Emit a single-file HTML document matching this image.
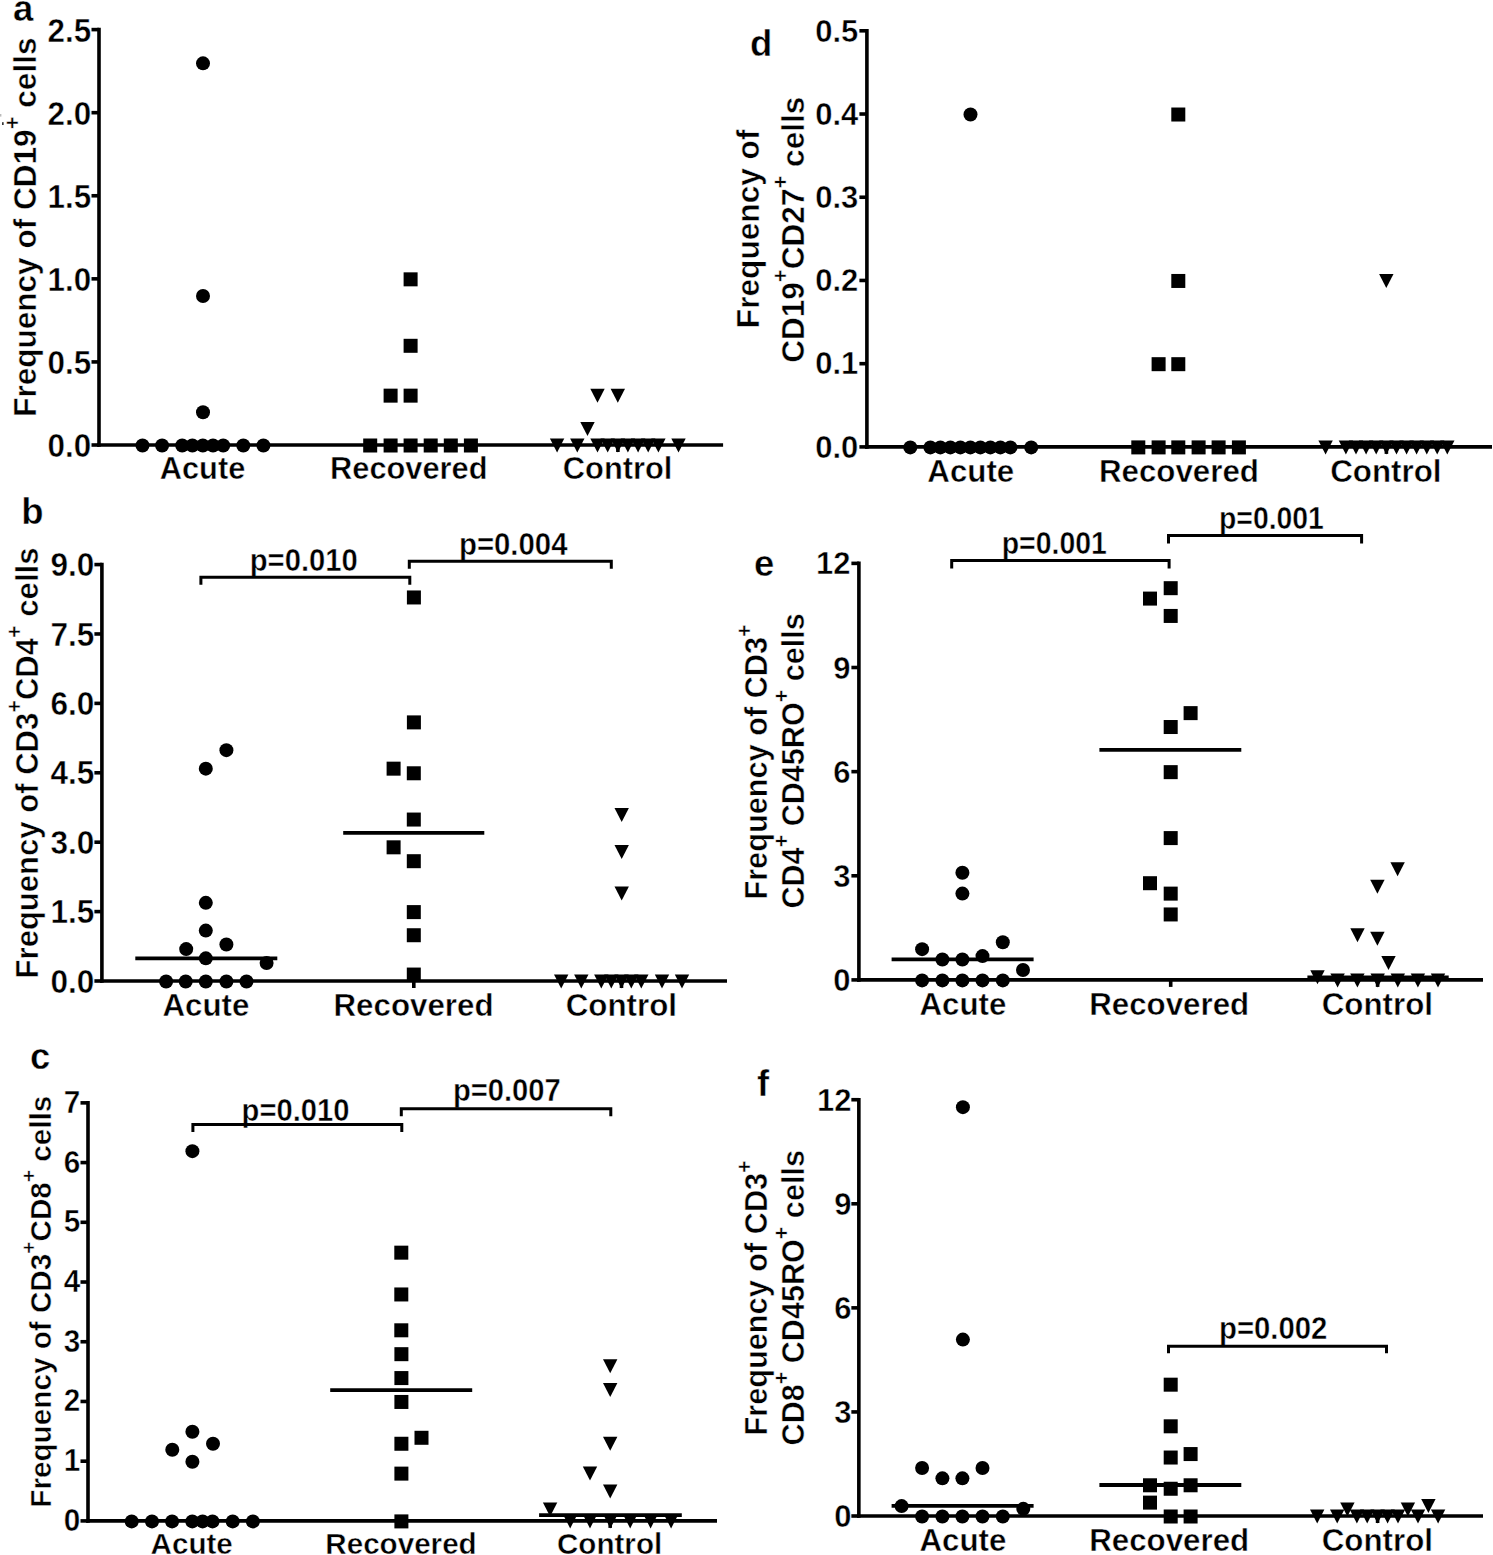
<!DOCTYPE html>
<html><head><meta charset="utf-8"><style>
html,body{margin:0;padding:0;background:#fff;}
svg{display:block;}
text{font-family:'Liberation Sans', sans-serif;font-weight:bold;fill:#000;stroke:#fff;stroke-width:0.45px;}
</style></head><body>
<svg width="1493" height="1555" viewBox="0 0 1493 1555">
<g>
<text x="91.2" y="457" font-size="33" text-anchor="end" textLength="43.62" lengthAdjust="spacingAndGlyphs">0.0</text>
<text x="91.2" y="373.92" font-size="33" text-anchor="end" textLength="43.62" lengthAdjust="spacingAndGlyphs">0.5</text>
<text x="91.2" y="290.84" font-size="33" text-anchor="end" textLength="43.62" lengthAdjust="spacingAndGlyphs">1.0</text>
<text x="91.2" y="207.76" font-size="33" text-anchor="end" textLength="43.62" lengthAdjust="spacingAndGlyphs">1.5</text>
<text x="91.2" y="124.68" font-size="33" text-anchor="end" textLength="43.62" lengthAdjust="spacingAndGlyphs">2.0</text>
<text x="91.2" y="41.6" font-size="33" text-anchor="end" textLength="43.62" lengthAdjust="spacingAndGlyphs">2.5</text>
<text x="202.5" y="479.4" font-size="30.8" text-anchor="middle">Acute</text>
<text x="408.8" y="479.4" font-size="30.8" text-anchor="middle">Recovered</text>
<text x="617.6" y="479.4" font-size="30.8" text-anchor="middle">Control</text>
<text transform="translate(35.6,227.2) rotate(-90)" font-size="31.55" text-anchor="middle">Frequency of CD19<tspan font-size="22.1" dy="-15.5">+</tspan><tspan dy="15.5">&#8203;</tspan> cells</text>
<text x="13.1" y="20.9" font-size="36.5">a</text>
<text x="94.3" y="992.6" font-size="33" text-anchor="end" textLength="43.85" lengthAdjust="spacingAndGlyphs">0.0</text>
<text x="94.3" y="923.2" font-size="33" text-anchor="end" textLength="43.85" lengthAdjust="spacingAndGlyphs">1.5</text>
<text x="94.3" y="853.79" font-size="33" text-anchor="end" textLength="43.85" lengthAdjust="spacingAndGlyphs">3.0</text>
<text x="94.3" y="784.38" font-size="33" text-anchor="end" textLength="43.85" lengthAdjust="spacingAndGlyphs">4.5</text>
<text x="94.3" y="714.98" font-size="33" text-anchor="end" textLength="43.85" lengthAdjust="spacingAndGlyphs">6.0</text>
<text x="94.3" y="645.57" font-size="33" text-anchor="end" textLength="43.85" lengthAdjust="spacingAndGlyphs">7.5</text>
<text x="94.3" y="576.17" font-size="33" text-anchor="end" textLength="43.85" lengthAdjust="spacingAndGlyphs">9.0</text>
<text x="205.9" y="1015.5" font-size="31.3" text-anchor="middle">Acute</text>
<text x="413.5" y="1015.5" font-size="31.3" text-anchor="middle">Recovered</text>
<text x="621.4" y="1015.5" font-size="31.3" text-anchor="middle">Control</text>
<text transform="translate(37.6,763) rotate(-90)" font-size="31.05" text-anchor="middle">Frequency of CD3<tspan font-size="21.7" dy="-15.2">+</tspan><tspan dy="15.2">&#8203;</tspan>CD4<tspan font-size="21.7" dy="-15.2">+</tspan><tspan dy="15.2">&#8203;</tspan> cells</text>
<text x="21.25" y="523.75" font-size="36.5">b</text>
<text x="303.8" y="570.5" font-size="31.4" text-anchor="middle" textLength="108.05" lengthAdjust="spacingAndGlyphs">p=0.010</text>
<text x="513.25" y="554.7" font-size="31.4" text-anchor="middle" textLength="108.57" lengthAdjust="spacingAndGlyphs">p=0.004</text>
<text x="80.2" y="1530.9" font-size="30.5" text-anchor="end" textLength="16.53" lengthAdjust="spacingAndGlyphs">0</text>
<text x="80.2" y="1471.18" font-size="30.5" text-anchor="end" textLength="16.53" lengthAdjust="spacingAndGlyphs">1</text>
<text x="80.2" y="1411.46" font-size="30.5" text-anchor="end" textLength="16.53" lengthAdjust="spacingAndGlyphs">2</text>
<text x="80.2" y="1351.74" font-size="30.5" text-anchor="end" textLength="16.53" lengthAdjust="spacingAndGlyphs">3</text>
<text x="80.2" y="1292.02" font-size="30.5" text-anchor="end" textLength="16.53" lengthAdjust="spacingAndGlyphs">4</text>
<text x="80.2" y="1232.3" font-size="30.5" text-anchor="end" textLength="16.53" lengthAdjust="spacingAndGlyphs">5</text>
<text x="80.2" y="1172.58" font-size="30.5" text-anchor="end" textLength="16.53" lengthAdjust="spacingAndGlyphs">6</text>
<text x="80.2" y="1112.86" font-size="30.5" text-anchor="end" textLength="16.53" lengthAdjust="spacingAndGlyphs">7</text>
<text x="191.7" y="1553.8" font-size="29.6" text-anchor="middle">Acute</text>
<text x="401" y="1553.8" font-size="29.6" text-anchor="middle">Recovered</text>
<text x="609.6" y="1553.8" font-size="29.6" text-anchor="middle">Control</text>
<text transform="translate(50.6,1301.7) rotate(-90)" font-size="29.7" text-anchor="middle">Frequency of CD3<tspan font-size="20.8" dy="-14.6">+</tspan><tspan dy="14.6">&#8203;</tspan>CD8<tspan font-size="20.8" dy="-14.6">+</tspan><tspan dy="14.6">&#8203;</tspan> cells</text>
<text x="29.9" y="1068.5" font-size="36.5">c</text>
<text x="295.55" y="1120.7" font-size="31.4" text-anchor="middle" textLength="107.95" lengthAdjust="spacingAndGlyphs">p=0.010</text>
<text x="506.85" y="1100.7" font-size="31.4" text-anchor="middle" textLength="107.95" lengthAdjust="spacingAndGlyphs">p=0.007</text>
<text x="858.3" y="457.7" font-size="31" text-anchor="end">0.0</text>
<text x="858.3" y="374.48" font-size="31" text-anchor="end">0.1</text>
<text x="858.3" y="291.26" font-size="31" text-anchor="end">0.2</text>
<text x="858.3" y="208.04" font-size="31" text-anchor="end">0.3</text>
<text x="858.3" y="124.82" font-size="31" text-anchor="end">0.4</text>
<text x="858.3" y="41.6" font-size="31" text-anchor="end">0.5</text>
<text x="970.8" y="481.9" font-size="31.3" text-anchor="middle">Acute</text>
<text x="1178.9" y="481.9" font-size="31.3" text-anchor="middle">Recovered</text>
<text x="1385.9" y="481.9" font-size="31.3" text-anchor="middle">Control</text>
<text transform="translate(759.3,228.85) rotate(-90)" font-size="31.65" text-anchor="middle">Frequency of</text>
<text transform="translate(803.8,229.75) rotate(-90)" font-size="31.55" text-anchor="middle">CD19<tspan font-size="22.1" dy="-15.5">+</tspan><tspan dy="15.5">&#8203;</tspan>CD27<tspan font-size="22.1" dy="-15.5">+</tspan><tspan dy="15.5">&#8203;</tspan> cells</text>
<text x="749.95" y="55.8" font-size="36.5">d</text>
<text x="850.6" y="990.9" font-size="31" text-anchor="end">0</text>
<text x="850.6" y="886.77" font-size="31" text-anchor="end">3</text>
<text x="850.6" y="782.64" font-size="31" text-anchor="end">6</text>
<text x="850.6" y="678.51" font-size="31" text-anchor="end">9</text>
<text x="850.6" y="574.38" font-size="31" text-anchor="end">12</text>
<text x="962.9" y="1015.2" font-size="31.3" text-anchor="middle">Acute</text>
<text x="1169.2" y="1015.2" font-size="31.3" text-anchor="middle">Recovered</text>
<text x="1377.4" y="1015.2" font-size="31.3" text-anchor="middle">Control</text>
<text transform="translate(767,762) rotate(-90)" font-size="30.7" text-anchor="middle">Frequency of CD3<tspan font-size="21.5" dy="-15.0">+</tspan><tspan dy="15.0">&#8203;</tspan></text>
<text transform="translate(804,760.9) rotate(-90)" font-size="30.6" text-anchor="middle">CD4<tspan font-size="21.4" dy="-15.0">+</tspan><tspan dy="15.0">&#8203;</tspan> CD45RO<tspan font-size="21.4" dy="-15.0">+</tspan><tspan dy="15.0">&#8203;</tspan> cells</text>
<text x="754" y="575.6" font-size="36.5">e</text>
<text x="1054.3" y="553.9" font-size="31.4" text-anchor="middle" textLength="105.17" lengthAdjust="spacingAndGlyphs">p=0.001</text>
<text x="1271.45" y="529.4" font-size="31.4" text-anchor="middle" textLength="104.86" lengthAdjust="spacingAndGlyphs">p=0.001</text>
<text x="851.5" y="1527" font-size="31" text-anchor="end">0</text>
<text x="851.5" y="1422.93" font-size="31" text-anchor="end">3</text>
<text x="851.5" y="1318.86" font-size="31" text-anchor="end">6</text>
<text x="851.5" y="1214.79" font-size="31" text-anchor="end">9</text>
<text x="851.5" y="1110.72" font-size="31" text-anchor="end">12</text>
<text x="962.9" y="1550.9" font-size="31.3" text-anchor="middle">Acute</text>
<text x="1169.2" y="1550.9" font-size="31.3" text-anchor="middle">Recovered</text>
<text x="1377.4" y="1550.9" font-size="31.3" text-anchor="middle">Control</text>
<text transform="translate(767,1297.9) rotate(-90)" font-size="30.7" text-anchor="middle">Frequency of CD3<tspan font-size="21.5" dy="-15.0">+</tspan><tspan dy="15.0">&#8203;</tspan></text>
<text transform="translate(804,1297.75) rotate(-90)" font-size="30.6" text-anchor="middle">CD8<tspan font-size="21.4" dy="-15.0">+</tspan><tspan dy="15.0">&#8203;</tspan> CD45RO<tspan font-size="21.4" dy="-15.0">+</tspan><tspan dy="15.0">&#8203;</tspan> cells</text>
<text x="757" y="1095.8" font-size="36.5">f</text>
<text x="1273.2" y="1338.9" font-size="31.4" text-anchor="middle" textLength="108.46" lengthAdjust="spacingAndGlyphs">p=0.002</text>
</g>
<line x1="99" y1="27.8" x2="99" y2="446.8" stroke="#000" stroke-width="3.6"/>
<line x1="97.2" y1="445" x2="723.1" y2="445" stroke="#000" stroke-width="3.6"/>
<line x1="91.5" y1="445" x2="99" y2="445" stroke="#000" stroke-width="3.6"/>
<line x1="91.5" y1="361.92" x2="99" y2="361.92" stroke="#000" stroke-width="3.6"/>
<line x1="91.5" y1="278.84" x2="99" y2="278.84" stroke="#000" stroke-width="3.6"/>
<line x1="91.5" y1="195.76" x2="99" y2="195.76" stroke="#000" stroke-width="3.6"/>
<line x1="91.5" y1="112.68" x2="99" y2="112.68" stroke="#000" stroke-width="3.6"/>
<line x1="91.5" y1="29.6" x2="99" y2="29.6" stroke="#000" stroke-width="3.6"/>
<line x1="202.8" y1="445" x2="202.8" y2="452" stroke="#000" stroke-width="3.6"/>
<line x1="410.6" y1="445" x2="410.6" y2="452" stroke="#000" stroke-width="3.6"/>
<line x1="617.9" y1="445" x2="617.9" y2="452" stroke="#000" stroke-width="3.6"/>
<circle cx="203" cy="63.33" r="7.0"/>
<circle cx="203" cy="295.96" r="7.0"/>
<circle cx="203" cy="412.27" r="7.0"/>
<circle cx="142.5" cy="445.5" r="7.0"/>
<circle cx="162.1" cy="445.5" r="7.0"/>
<circle cx="182.2" cy="445.5" r="7.0"/>
<circle cx="192.4" cy="445.5" r="7.0"/>
<circle cx="202.8" cy="445.5" r="7.0"/>
<circle cx="213" cy="445.5" r="7.0"/>
<circle cx="223.2" cy="445.5" r="7.0"/>
<circle cx="243.3" cy="445.5" r="7.0"/>
<circle cx="263.4" cy="445.5" r="7.0"/>
<rect x="403.6" y="272.34" width="14.0" height="14.0"/>
<rect x="403.6" y="338.8" width="14.0" height="14.0"/>
<rect x="383.6" y="388.65" width="14.0" height="14.0"/>
<rect x="403.6" y="388.65" width="14.0" height="14.0"/>
<rect x="363.2" y="438.5" width="14.0" height="14.0"/>
<rect x="383.6" y="438.5" width="14.0" height="14.0"/>
<rect x="403.6" y="438.5" width="14.0" height="14.0"/>
<rect x="423.7" y="438.5" width="14.0" height="14.0"/>
<rect x="443.8" y="438.5" width="14.0" height="14.0"/>
<rect x="463.9" y="438.5" width="14.0" height="14.0"/>
<path d="M590.3,388.65H604.7L597.5,402.65Z"/>
<path d="M610.6,388.65H625L617.8,402.65Z"/>
<path d="M580.3,421.88H594.7L587.5,435.88Z"/>
<path d="M549.9,438.5H564.3L557.1,452.5Z"/>
<path d="M570.1,438.5H584.5L577.3,452.5Z"/>
<path d="M590.3,438.5H604.7L597.5,452.5Z"/>
<path d="M600.5,438.5H614.9L607.7,452.5Z"/>
<path d="M610.7,438.5H625.1L617.9,452.5Z"/>
<path d="M620.7,438.5H635.1L627.9,452.5Z"/>
<path d="M630.9,438.5H645.3L638.1,452.5Z"/>
<path d="M641,438.5H655.4L648.2,452.5Z"/>
<path d="M651.2,438.5H665.6L658.4,452.5Z"/>
<path d="M671.3,438.5H685.7L678.5,452.5Z"/>
<line x1="101.9" y1="562.77" x2="101.9" y2="982.8" stroke="#000" stroke-width="3.6"/>
<line x1="100.1" y1="981" x2="727" y2="981" stroke="#000" stroke-width="3.6"/>
<line x1="94.4" y1="981" x2="101.9" y2="981" stroke="#000" stroke-width="3.6"/>
<line x1="94.4" y1="911.6" x2="101.9" y2="911.6" stroke="#000" stroke-width="3.6"/>
<line x1="94.4" y1="842.19" x2="101.9" y2="842.19" stroke="#000" stroke-width="3.6"/>
<line x1="94.4" y1="772.78" x2="101.9" y2="772.78" stroke="#000" stroke-width="3.6"/>
<line x1="94.4" y1="703.38" x2="101.9" y2="703.38" stroke="#000" stroke-width="3.6"/>
<line x1="94.4" y1="633.97" x2="101.9" y2="633.97" stroke="#000" stroke-width="3.6"/>
<line x1="94.4" y1="564.57" x2="101.9" y2="564.57" stroke="#000" stroke-width="3.6"/>
<line x1="205.8" y1="981" x2="205.8" y2="988" stroke="#000" stroke-width="3.6"/>
<line x1="413.8" y1="981" x2="413.8" y2="988" stroke="#000" stroke-width="3.6"/>
<line x1="621.5" y1="981" x2="621.5" y2="988" stroke="#000" stroke-width="3.6"/>
<line x1="135.3" y1="958.3" x2="277.3" y2="958.3" stroke="#000" stroke-width="3.8"/>
<line x1="343.2" y1="832.9" x2="484.3" y2="832.9" stroke="#000" stroke-width="3.8"/>
<path d="M200.9,584.7V577.2H409.8V584.7" fill="none" stroke="#000" stroke-width="3.0"/>
<path d="M409.3,568.8V561.3H611.3V568.8" fill="none" stroke="#000" stroke-width="3.0"/>
<circle cx="226.4" cy="750.15" r="7.0"/>
<circle cx="205.8" cy="768.66" r="7.0"/>
<circle cx="205.8" cy="902.84" r="7.0"/>
<circle cx="205.8" cy="930.6" r="7.0"/>
<circle cx="186.2" cy="949.11" r="7.0"/>
<circle cx="226.4" cy="944.48" r="7.0"/>
<circle cx="205.8" cy="958.37" r="7.0"/>
<circle cx="266.6" cy="962.99" r="7.0"/>
<circle cx="166.1" cy="981.5" r="7.0"/>
<circle cx="185.7" cy="981.5" r="7.0"/>
<circle cx="205.8" cy="981.5" r="7.0"/>
<circle cx="226.4" cy="981.5" r="7.0"/>
<circle cx="246.5" cy="981.5" r="7.0"/>
<rect x="406.9" y="590.46" width="14.0" height="14.0"/>
<rect x="406.9" y="715.39" width="14.0" height="14.0"/>
<rect x="386.6" y="761.66" width="14.0" height="14.0"/>
<rect x="406.8" y="766.28" width="14.0" height="14.0"/>
<rect x="406.8" y="812.55" width="14.0" height="14.0"/>
<rect x="386.6" y="840.32" width="14.0" height="14.0"/>
<rect x="406.8" y="854.2" width="14.0" height="14.0"/>
<rect x="406.8" y="905.1" width="14.0" height="14.0"/>
<rect x="406.8" y="928.23" width="14.0" height="14.0"/>
<rect x="406.8" y="967.56" width="14.0" height="14.0"/>
<path d="M614.5,807.93H628.9L621.7,821.93Z"/>
<path d="M614.5,844.94H628.9L621.7,858.94Z"/>
<path d="M614.5,886.59H628.9L621.7,900.59Z"/>
<path d="M554,974.5H568.4L561.2,988.5Z"/>
<path d="M574.1,974.5H588.5L581.3,988.5Z"/>
<path d="M594.1,974.5H608.5L601.3,988.5Z"/>
<path d="M604.1,974.5H618.5L611.3,988.5Z"/>
<path d="M614.3,974.5H628.7L621.5,988.5Z"/>
<path d="M624.1,974.5H638.5L631.3,988.5Z"/>
<path d="M634.1,974.5H648.5L641.3,988.5Z"/>
<path d="M654.8,974.5H669.2L662,988.5Z"/>
<path d="M674.8,974.5H689.2L682,988.5Z"/>
<line x1="88" y1="1101.06" x2="88" y2="1522.7" stroke="#000" stroke-width="3.6"/>
<line x1="86.2" y1="1520.9" x2="717" y2="1520.9" stroke="#000" stroke-width="3.6"/>
<line x1="80.5" y1="1520.9" x2="88" y2="1520.9" stroke="#000" stroke-width="3.6"/>
<line x1="80.5" y1="1461.18" x2="88" y2="1461.18" stroke="#000" stroke-width="3.6"/>
<line x1="80.5" y1="1401.46" x2="88" y2="1401.46" stroke="#000" stroke-width="3.6"/>
<line x1="80.5" y1="1341.74" x2="88" y2="1341.74" stroke="#000" stroke-width="3.6"/>
<line x1="80.5" y1="1282.02" x2="88" y2="1282.02" stroke="#000" stroke-width="3.6"/>
<line x1="80.5" y1="1222.3" x2="88" y2="1222.3" stroke="#000" stroke-width="3.6"/>
<line x1="80.5" y1="1162.58" x2="88" y2="1162.58" stroke="#000" stroke-width="3.6"/>
<line x1="80.5" y1="1102.86" x2="88" y2="1102.86" stroke="#000" stroke-width="3.6"/>
<line x1="192.4" y1="1520.9" x2="192.4" y2="1527.9" stroke="#000" stroke-width="3.6"/>
<line x1="401.4" y1="1520.9" x2="401.4" y2="1527.9" stroke="#000" stroke-width="3.6"/>
<line x1="610.2" y1="1520.9" x2="610.2" y2="1527.9" stroke="#000" stroke-width="3.6"/>
<line x1="330.2" y1="1390.1" x2="472.2" y2="1390.1" stroke="#000" stroke-width="3.8"/>
<line x1="539.1" y1="1515.1" x2="681.8" y2="1515.1" stroke="#000" stroke-width="3.8"/>
<path d="M192.9,1132.1V1124.6H401.8V1132.1" fill="none" stroke="#000" stroke-width="3.0"/>
<path d="M401.3,1116.3V1108.8H610.8V1116.3" fill="none" stroke="#000" stroke-width="3.0"/>
<circle cx="192.4" cy="1151.14" r="7.0"/>
<circle cx="192.4" cy="1431.82" r="7.0"/>
<circle cx="172.3" cy="1449.74" r="7.0"/>
<circle cx="213" cy="1443.76" r="7.0"/>
<circle cx="192.4" cy="1461.68" r="7.0"/>
<circle cx="131.7" cy="1521.4" r="7.0"/>
<circle cx="152" cy="1521.4" r="7.0"/>
<circle cx="172.1" cy="1521.4" r="7.0"/>
<circle cx="192.3" cy="1521.4" r="7.0"/>
<circle cx="202.6" cy="1521.4" r="7.0"/>
<circle cx="212.5" cy="1521.4" r="7.0"/>
<circle cx="232.7" cy="1521.4" r="7.0"/>
<circle cx="252.9" cy="1521.4" r="7.0"/>
<rect x="394.3" y="1245.66" width="14.0" height="14.0"/>
<rect x="394.3" y="1287.46" width="14.0" height="14.0"/>
<rect x="394.3" y="1323.3" width="14.0" height="14.0"/>
<rect x="394.4" y="1347.18" width="14.0" height="14.0"/>
<rect x="394.4" y="1371.07" width="14.0" height="14.0"/>
<rect x="394.4" y="1394.96" width="14.0" height="14.0"/>
<rect x="414.5" y="1430.79" width="14.0" height="14.0"/>
<rect x="394.4" y="1436.76" width="14.0" height="14.0"/>
<rect x="394.4" y="1466.62" width="14.0" height="14.0"/>
<rect x="394.4" y="1514.4" width="14.0" height="14.0"/>
<path d="M603,1359.13H617.4L610.2,1373.13Z"/>
<path d="M603,1383.02H617.4L610.2,1397.02Z"/>
<path d="M603,1436.76H617.4L610.2,1450.76Z"/>
<path d="M582.8,1466.62H597.2L590,1480.62Z"/>
<path d="M603,1484.54H617.4L610.2,1498.54Z"/>
<path d="M542.9,1502.46H557.3L550.1,1516.46Z"/>
<path d="M563,1514.4H577.4L570.2,1528.4Z"/>
<path d="M582.8,1514.4H597.2L590,1528.4Z"/>
<path d="M603.2,1514.4H617.6L610.4,1528.4Z"/>
<path d="M623,1514.4H637.4L630.2,1528.4Z"/>
<path d="M643.4,1514.4H657.8L650.6,1528.4Z"/>
<path d="M663.9,1514.4H678.3L671.1,1528.4Z"/>
<line x1="866.9" y1="29" x2="866.9" y2="448.7" stroke="#000" stroke-width="3.6"/>
<line x1="865.1" y1="446.9" x2="1492" y2="446.9" stroke="#000" stroke-width="3.6"/>
<line x1="859.4" y1="446.9" x2="866.9" y2="446.9" stroke="#000" stroke-width="3.6"/>
<line x1="859.4" y1="363.68" x2="866.9" y2="363.68" stroke="#000" stroke-width="3.6"/>
<line x1="859.4" y1="280.46" x2="866.9" y2="280.46" stroke="#000" stroke-width="3.6"/>
<line x1="859.4" y1="197.24" x2="866.9" y2="197.24" stroke="#000" stroke-width="3.6"/>
<line x1="859.4" y1="114.02" x2="866.9" y2="114.02" stroke="#000" stroke-width="3.6"/>
<line x1="859.4" y1="30.8" x2="866.9" y2="30.8" stroke="#000" stroke-width="3.6"/>
<line x1="970.5" y1="446.9" x2="970.5" y2="453.9" stroke="#000" stroke-width="3.6"/>
<line x1="1178.3" y1="446.9" x2="1178.3" y2="453.9" stroke="#000" stroke-width="3.6"/>
<line x1="1386.4" y1="446.9" x2="1386.4" y2="453.9" stroke="#000" stroke-width="3.6"/>
<circle cx="970.5" cy="114.52" r="7.0"/>
<circle cx="910.3" cy="447.4" r="7.0"/>
<circle cx="930.4" cy="447.4" r="7.0"/>
<circle cx="940.4" cy="447.4" r="7.0"/>
<circle cx="950.4" cy="447.4" r="7.0"/>
<circle cx="960.4" cy="447.4" r="7.0"/>
<circle cx="970.4" cy="447.4" r="7.0"/>
<circle cx="980.4" cy="447.4" r="7.0"/>
<circle cx="990.4" cy="447.4" r="7.0"/>
<circle cx="1000.4" cy="447.4" r="7.0"/>
<circle cx="1010.4" cy="447.4" r="7.0"/>
<circle cx="1031.2" cy="447.4" r="7.0"/>
<rect x="1171.3" y="107.52" width="14.0" height="14.0"/>
<rect x="1171.3" y="273.96" width="14.0" height="14.0"/>
<rect x="1151.6" y="357.18" width="14.0" height="14.0"/>
<rect x="1171.3" y="357.18" width="14.0" height="14.0"/>
<rect x="1131.3" y="440.4" width="14.0" height="14.0"/>
<rect x="1151.6" y="440.4" width="14.0" height="14.0"/>
<rect x="1171.3" y="440.4" width="14.0" height="14.0"/>
<rect x="1191.6" y="440.4" width="14.0" height="14.0"/>
<rect x="1211.6" y="440.4" width="14.0" height="14.0"/>
<rect x="1231.9" y="440.4" width="14.0" height="14.0"/>
<path d="M1379.1,273.96H1393.5L1386.3,287.96Z"/>
<path d="M1318.4,440.4H1332.8L1325.6,454.4Z"/>
<path d="M1338.7,440.4H1353.1L1345.9,454.4Z"/>
<path d="M1348.8,440.4H1363.2L1356,454.4Z"/>
<path d="M1358.9,440.4H1373.3L1366.1,454.4Z"/>
<path d="M1369,440.4H1383.4L1376.2,454.4Z"/>
<path d="M1379.2,440.4H1393.6L1386.4,454.4Z"/>
<path d="M1389.3,440.4H1403.7L1396.5,454.4Z"/>
<path d="M1399.4,440.4H1413.8L1406.6,454.4Z"/>
<path d="M1409.4,440.4H1423.8L1416.6,454.4Z"/>
<path d="M1419.6,440.4H1434L1426.8,454.4Z"/>
<path d="M1430,440.4H1444.4L1437.2,454.4Z"/>
<path d="M1440.1,440.4H1454.5L1447.3,454.4Z"/>
<line x1="858.9" y1="561.58" x2="858.9" y2="981.7" stroke="#000" stroke-width="3.6"/>
<line x1="857.1" y1="979.9" x2="1483" y2="979.9" stroke="#000" stroke-width="3.6"/>
<line x1="851.4" y1="979.9" x2="858.9" y2="979.9" stroke="#000" stroke-width="3.6"/>
<line x1="851.4" y1="875.77" x2="858.9" y2="875.77" stroke="#000" stroke-width="3.6"/>
<line x1="851.4" y1="771.64" x2="858.9" y2="771.64" stroke="#000" stroke-width="3.6"/>
<line x1="851.4" y1="667.51" x2="858.9" y2="667.51" stroke="#000" stroke-width="3.6"/>
<line x1="851.4" y1="563.38" x2="858.9" y2="563.38" stroke="#000" stroke-width="3.6"/>
<line x1="962.4" y1="979.9" x2="962.4" y2="986.9" stroke="#000" stroke-width="3.6"/>
<line x1="1170.7" y1="979.9" x2="1170.7" y2="986.9" stroke="#000" stroke-width="3.6"/>
<line x1="1377.6" y1="979.9" x2="1377.6" y2="986.9" stroke="#000" stroke-width="3.6"/>
<line x1="891.6" y1="959.4" x2="1033.6" y2="959.4" stroke="#000" stroke-width="3.8"/>
<line x1="1099.4" y1="749.8" x2="1241.3" y2="749.8" stroke="#000" stroke-width="3.8"/>
<line x1="1307.4" y1="977.3" x2="1448.7" y2="977.3" stroke="#000" stroke-width="3.8"/>
<path d="M951.7,568.4V560.6H1169.1V568.4" fill="none" stroke="#000" stroke-width="3.0"/>
<path d="M1168.5,543.4V535.4H1361.6V543.4" fill="none" stroke="#000" stroke-width="3.0"/>
<circle cx="962.4" cy="872.8" r="7.0"/>
<circle cx="962.4" cy="893.62" r="7.0"/>
<circle cx="922.1" cy="949.16" r="7.0"/>
<circle cx="942.4" cy="959.57" r="7.0"/>
<circle cx="962.4" cy="959.57" r="7.0"/>
<circle cx="982.5" cy="956.1" r="7.0"/>
<circle cx="1002.8" cy="942.22" r="7.0"/>
<circle cx="1023" cy="969.99" r="7.0"/>
<circle cx="922.1" cy="980.4" r="7.0"/>
<circle cx="942.4" cy="980.4" r="7.0"/>
<circle cx="962.4" cy="980.4" r="7.0"/>
<circle cx="982.5" cy="980.4" r="7.0"/>
<circle cx="1002.8" cy="980.4" r="7.0"/>
<rect x="1163.7" y="581.18" width="14.0" height="14.0"/>
<rect x="1143" y="591.59" width="14.0" height="14.0"/>
<rect x="1163.7" y="608.94" width="14.0" height="14.0"/>
<rect x="1183.6" y="706.13" width="14.0" height="14.0"/>
<rect x="1163.7" y="720.02" width="14.0" height="14.0"/>
<rect x="1163.7" y="765.14" width="14.0" height="14.0"/>
<rect x="1163.7" y="831.09" width="14.0" height="14.0"/>
<rect x="1143" y="876.21" width="14.0" height="14.0"/>
<rect x="1163.7" y="886.62" width="14.0" height="14.0"/>
<rect x="1163.7" y="907.45" width="14.0" height="14.0"/>
<path d="M1390.4,862.33H1404.8L1397.6,876.33Z"/>
<path d="M1370.2,879.68H1384.6L1377.4,893.68Z"/>
<path d="M1350.3,928.28H1364.7L1357.5,942.28Z"/>
<path d="M1370.2,931.75H1384.6L1377.4,945.75Z"/>
<path d="M1381.3,956.04H1395.7L1388.5,970.04Z"/>
<path d="M1310.3,970.28H1324.7L1317.5,984.28Z"/>
<path d="M1330.4,973.4H1344.8L1337.6,987.4Z"/>
<path d="M1350.2,973.4H1364.6L1357.4,987.4Z"/>
<path d="M1370.5,973.4H1384.9L1377.7,987.4Z"/>
<path d="M1390.6,973.4H1405L1397.8,987.4Z"/>
<path d="M1410.7,973.4H1425.1L1417.9,987.4Z"/>
<path d="M1430.8,973.4H1445.2L1438,987.4Z"/>
<line x1="858.85" y1="1097.92" x2="858.85" y2="1517.8" stroke="#000" stroke-width="3.6"/>
<line x1="857.05" y1="1516" x2="1483" y2="1516" stroke="#000" stroke-width="3.6"/>
<line x1="851.35" y1="1516" x2="858.85" y2="1516" stroke="#000" stroke-width="3.6"/>
<line x1="851.35" y1="1411.93" x2="858.85" y2="1411.93" stroke="#000" stroke-width="3.6"/>
<line x1="851.35" y1="1307.86" x2="858.85" y2="1307.86" stroke="#000" stroke-width="3.6"/>
<line x1="851.35" y1="1203.79" x2="858.85" y2="1203.79" stroke="#000" stroke-width="3.6"/>
<line x1="851.35" y1="1099.72" x2="858.85" y2="1099.72" stroke="#000" stroke-width="3.6"/>
<line x1="962.6" y1="1516" x2="962.6" y2="1523" stroke="#000" stroke-width="3.6"/>
<line x1="1170.7" y1="1516" x2="1170.7" y2="1523" stroke="#000" stroke-width="3.6"/>
<line x1="1377.6" y1="1516" x2="1377.6" y2="1523" stroke="#000" stroke-width="3.6"/>
<line x1="891.6" y1="1505.9" x2="1033.6" y2="1505.9" stroke="#000" stroke-width="3.8"/>
<line x1="1099.4" y1="1485" x2="1241.3" y2="1485" stroke="#000" stroke-width="3.8"/>
<path d="M1168.5,1353.2V1346.2H1386.5V1353.2" fill="none" stroke="#000" stroke-width="3.0"/>
<circle cx="962.9" cy="1107.16" r="7.0"/>
<circle cx="962.9" cy="1339.58" r="7.0"/>
<circle cx="922.1" cy="1467.93" r="7.0"/>
<circle cx="942.4" cy="1478.34" r="7.0"/>
<circle cx="962.4" cy="1478.34" r="7.0"/>
<circle cx="982.5" cy="1467.93" r="7.0"/>
<circle cx="901.6" cy="1506.09" r="7.0"/>
<circle cx="1023.3" cy="1508.87" r="7.0"/>
<circle cx="922.1" cy="1516.5" r="7.0"/>
<circle cx="942.4" cy="1516.5" r="7.0"/>
<circle cx="962.4" cy="1516.5" r="7.0"/>
<circle cx="982.5" cy="1516.5" r="7.0"/>
<circle cx="1002.8" cy="1516.5" r="7.0"/>
<rect x="1163.7" y="1377.68" width="14.0" height="14.0"/>
<rect x="1163.7" y="1419.31" width="14.0" height="14.0"/>
<rect x="1163.7" y="1450.53" width="14.0" height="14.0"/>
<rect x="1183.6" y="1447.06" width="14.0" height="14.0"/>
<rect x="1143" y="1478.28" width="14.0" height="14.0"/>
<rect x="1163.7" y="1481.75" width="14.0" height="14.0"/>
<rect x="1183.6" y="1478.28" width="14.0" height="14.0"/>
<rect x="1143" y="1495.62" width="14.0" height="14.0"/>
<rect x="1163.7" y="1509.5" width="14.0" height="14.0"/>
<rect x="1183.6" y="1509.5" width="14.0" height="14.0"/>
<path d="M1340.2,1502.56H1354.6L1347.4,1516.56Z"/>
<path d="M1400.7,1502.56H1415.1L1407.9,1516.56Z"/>
<path d="M1421.2,1499.09H1435.6L1428.4,1513.09Z"/>
<path d="M1310,1509.5H1324.4L1317.2,1523.5Z"/>
<path d="M1330,1509.5H1344.4L1337.2,1523.5Z"/>
<path d="M1349.7,1509.5H1364.1L1356.9,1523.5Z"/>
<path d="M1360,1509.5H1374.4L1367.2,1523.5Z"/>
<path d="M1370.4,1509.5H1384.8L1377.6,1523.5Z"/>
<path d="M1380.4,1509.5H1394.8L1387.6,1523.5Z"/>
<path d="M1390.8,1509.5H1405.2L1398,1523.5Z"/>
<path d="M1410.8,1509.5H1425.2L1418,1523.5Z"/>
<path d="M1430.9,1509.5H1445.3L1438.1,1523.5Z"/>
<rect x="2.1" y="122.2" width="1.5" height="2.8" fill="#222"/><rect x="0" y="114" width="1.4" height="2.6" fill="#bbb"/>
</svg>
</body></html>
